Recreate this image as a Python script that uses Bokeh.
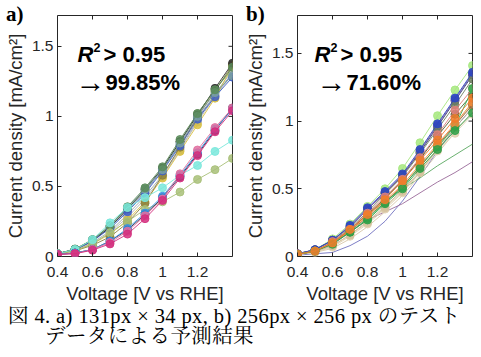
import math
from bokeh.plotting import figure
from bokeh.layouts import row, column
from bokeh.models import Range1d, FixedTicker, Label, Div, CustomJSTickFormatter
from bokeh.embed import file_html
from bokeh.resources import INLINE

voltage = [0.4, 0.5, 0.6, 0.7, 0.8, 0.9, 1.0, 1.1, 1.2, 1.3, 1.4]
x_ticks = [0.4, 0.6, 0.8, 1.0, 1.2]
y_ticks = [0, 0.5, 1, 1.5]

# ---- panel a) 131px x 34px : predicted curves (all markers) ----
a_colors = ["#86a070", "#6d82a8", "#a0a8a8", "#b8b8b8", "#d8c040", "#8c8040",
            "#303030", "#4060c8", "#7aa0a0", "#5b8c5a",
            "#a8c078", "#7ae8dc", "#203050", "#3a90e0", "#e070a0", "#d42e7e"]
a_values = [
    [0.02, 0.05, 0.12, 0.21, 0.34, 0.47, 0.63, 0.82, 1.02, 1.19, 1.34],
    [0.02, 0.05, 0.11, 0.21, 0.33, 0.46, 0.62, 0.80, 0.99, 1.15, 1.31],
    [0.02, 0.045, 0.10, 0.18, 0.30, 0.43, 0.58, 0.77, 0.97, 1.16, 1.33],
    [0.02, 0.045, 0.09, 0.17, 0.28, 0.41, 0.57, 0.76, 0.96, 1.14, 1.30],
    [0.02, 0.04, 0.09, 0.16, 0.26, 0.39, 0.56, 0.75, 0.94, 1.13, 1.36],
    [0.02, 0.04, 0.08, 0.14, 0.24, 0.38, 0.58, 0.78, 1.00, 1.18, 1.37],
    [0.02, 0.05, 0.11, 0.21, 0.34, 0.48, 0.63, 0.82, 1.01, 1.20, 1.38],
    [0.02, 0.05, 0.11, 0.20, 0.32, 0.45, 0.61, 0.79, 0.98, 1.14, 1.28],
    [0.02, 0.05, 0.12, 0.22, 0.35, 0.48, 0.62, 0.81, 1.00, 1.17, 1.29],
    [0.02, 0.054, 0.12, 0.22, 0.355, 0.49, 0.64, 0.835, 1.02, 1.19, 1.35],
    [0.02, 0.04, 0.09, 0.17, 0.25, 0.335, 0.39, 0.46, 0.55, 0.62, 0.70],
    [0.02, 0.05, 0.12, 0.24, 0.35, 0.42, 0.49, 0.58, 0.65, 0.75, 0.83],
    [0.015, 0.025, 0.05, 0.11, 0.19, 0.30, 0.42, 0.57, 0.73, 0.90, 1.06],
    [0.015, 0.025, 0.05, 0.11, 0.20, 0.31, 0.43, 0.58, 0.74, 0.91, 1.05],
    [0.015, 0.02, 0.05, 0.10, 0.18, 0.29, 0.41, 0.59, 0.76, 0.92, 1.06],
    [0.015, 0.02, 0.045, 0.09, 0.16, 0.27, 0.40, 0.56, 0.72, 0.89, 1.04],
]

# ---- panel b) 256px x 256px : curves without markers, then predicted curves ----
b_line_colors = ["#7070c0", "#5aa860", "#9a6a9a", "#d8c8a8"]
b_line_values = [
    [0.01, 0.02, 0.03, 0.08, 0.15, 0.26, 0.41, 0.59, 0.78, 0.95, 1.10],
    [0.015, 0.04, 0.10, 0.20, 0.31, 0.41, 0.50, 0.58, 0.67, 0.75, 0.83],
    [0.015, 0.04, 0.09, 0.18, 0.27, 0.33, 0.39, 0.47, 0.55, 0.62, 0.70],
    [0.015, 0.03, 0.06, 0.13, 0.22, 0.33, 0.45, 0.60, 0.76, 0.92, 1.07],
]
b_colors = ["#a6e77e", "#283a7a", "#7a5aa0", "#708060", "#506030", "#2a45c2",
            "#e0d0b0", "#c8b890", "#d6c4a0", "#9c6a3a", "#e0807a",
            "#30b050", "#f08a3a", "#2fa048", "#f07d2c"]
b_values = [
    [0.02, 0.05, 0.13, 0.24, 0.37, 0.50, 0.65, 0.84, 1.04, 1.23, 1.41],
    [0.02, 0.05, 0.12, 0.22, 0.35, 0.47, 0.60, 0.77, 0.96, 1.15, 1.34],
    [0.02, 0.05, 0.12, 0.22, 0.35, 0.47, 0.60, 0.78, 0.97, 1.16, 1.35],
    [0.02, 0.04, 0.11, 0.21, 0.33, 0.46, 0.59, 0.76, 0.94, 1.12, 1.31],
    [0.015, 0.04, 0.10, 0.20, 0.31, 0.43, 0.56, 0.72, 0.89, 1.05, 1.20],
    [0.02, 0.05, 0.12, 0.23, 0.36, 0.48, 0.61, 0.79, 0.98, 1.17, 1.36],
    [0.015, 0.03, 0.07, 0.15, 0.24, 0.35, 0.47, 0.62, 0.78, 0.91, 1.05],
    [0.015, 0.035, 0.08, 0.16, 0.26, 0.37, 0.49, 0.63, 0.79, 0.95, 1.10],
    [0.015, 0.035, 0.08, 0.16, 0.25, 0.36, 0.48, 0.62, 0.80, 0.97, 1.13],
    [0.015, 0.04, 0.10, 0.19, 0.29, 0.40, 0.52, 0.66, 0.82, 0.97, 1.12],
    [0.02, 0.04, 0.11, 0.20, 0.32, 0.44, 0.57, 0.73, 0.90, 1.08, 1.24],
    [0.015, 0.04, 0.10, 0.18, 0.28, 0.40, 0.51, 0.67, 0.81, 0.96, 1.24],
    [0.015, 0.04, 0.10, 0.19, 0.30, 0.41, 0.53, 0.68, 0.83, 0.98, 1.14],
    [0.015, 0.04, 0.09, 0.18, 0.27, 0.39, 0.50, 0.65, 0.79, 0.93, 1.06],
    [0.015, 0.04, 0.10, 0.20, 0.31, 0.42, 0.56, 0.71, 0.86, 1.02, 1.17],
]

x_min, x_max = 0.4, 1.4
y_max_a = 1.72
y_max_b = 1.78

FONT = "Liberation Sans"
AX = "#262626"
FRAME_W, FRAME_H = 175, 241


def make_panel(ymax, line_values, line_colors, values, colors, percent, dx1, dx2):
    p = figure(width=57 + FRAME_W + 8, height=15 + FRAME_H + 44,
               frame_width=FRAME_W, frame_height=FRAME_H,
               x_range=Range1d(x_min, x_max), y_range=Range1d(0, ymax),
               output_backend="svg", toolbar_location=None,
               min_border_left=57, min_border_right=8,
               min_border_top=15, min_border_bottom=44)
    p.background_fill_color = "white"
    p.border_fill_color = "white"
    p.outline_line_color = AX
    p.outline_line_width = 1
    p.xgrid.visible = False
    p.ygrid.visible = False

    fmt = CustomJSTickFormatter(code="return String(Math.round(tick*10)/10);")
    for ax, ticks in ((p.xaxis[0], x_ticks), (p.yaxis[0], y_ticks)):
        ax.ticker = FixedTicker(ticks=ticks)
        ax.formatter = fmt
        ax.major_tick_in = 4
        ax.major_tick_out = 0
        ax.minor_tick_line_color = None
        ax.axis_line_color = None
        ax.major_tick_line_color = AX
        ax.major_label_text_font = FONT
        ax.major_label_text_font_size = "15.5px"
        ax.major_label_text_color = AX
        ax.axis_label_text_font = FONT
        ax.axis_label_text_font_size = "18.5px"
        ax.axis_label_text_font_style = "normal"
        ax.axis_label_text_color = AX
    p.xaxis.major_label_standoff = 10
    p.xaxis.axis_label_standoff = 3
    p.yaxis.major_label_standoff = 4
    p.yaxis.axis_label_standoff = 3
    p.xaxis.axis_label = "Voltage [V vs RHE]"
    p.yaxis.axis_label = "Current density [mA/cm²]"

    # inward ticks on the right and top edges of the box
    p.ray(x=[x_max] * len(y_ticks), y=y_ticks, length=4, length_units="screen",
          angle=math.pi, line_color=AX, line_width=1)
    p.ray(x=x_ticks, y=[ymax] * len(x_ticks), length=4, length_units="screen",
          angle=-math.pi / 2, line_color=AX, line_width=1)

    for vals, c in zip(line_values, line_colors):
        p.line(voltage, vals, line_color=c, line_width=1, line_alpha=0.9)
    for vals, c in zip(values, colors):
        p.line(voltage, vals, line_color=c, line_width=1, line_alpha=0.9)
        p.scatter(voltage, vals, size=8, fill_color=c, line_color=c,
                  fill_alpha=0.85, line_alpha=0.85)

    # annotation
    base1 = FRAME_H - (53.5 - 15)
    base2 = FRAME_H - (81.7 - 15)
    p.add_layout(Label(x=20 + dx1, y=base1, x_units="screen", y_units="screen",
                       text="R", text_font=FONT, text_font_style="bold italic",
                       text_font_size="22px", text_color="black",
                       text_baseline="alphabetic"))
    p.add_layout(Label(x=36 + dx1, y=base1 + 7, x_units="screen", y_units="screen",
                       text="2", text_font=FONT, text_font_style="bold",
                       text_font_size="12.5px", text_color="black",
                       text_baseline="alphabetic"))
    p.add_layout(Label(x=46 + dx1, y=base1, x_units="screen", y_units="screen",
                       text="> 0.95", text_font=FONT, text_font_style="bold",
                       text_font_size="22px", text_color="black",
                       text_baseline="alphabetic"))
    p.add_layout(Label(x=18 + dx2, y=base2 + 1, x_units="screen", y_units="screen",
                       text="→", text_font=FONT, text_font_style="normal",
                       text_font_size="30px", text_color="black",
                       text_baseline="alphabetic"))
    p.add_layout(Label(x=48 + dx2, y=base2, x_units="screen", y_units="screen",
                       text=percent, text_font=FONT, text_font_style="bold",
                       text_font_size="22px", text_color="black",
                       text_baseline="alphabetic"))
    return p


pa = make_panel(y_max_a, [], [], a_values, a_colors, "99.85%", 0, 0)
pb = make_panel(y_max_b, b_line_values, b_line_colors, b_values, b_colors, "71.60%", -3, 1)

letter_style = ("position:absolute;top:2px;font-family:'Liberation Serif',serif;"
                "font-weight:bold;font-size:21px;line-height:24px;color:#000;")
letters = Div(
    text=(f"<div style=\"position:relative;width:481px;height:28px;\">"
          f"<span style=\"{letter_style}left:6px;\">a)</span>"
          f"<span style=\"{letter_style}left:246px;\">b)</span></div>"),
    width=481, height=28, margin=(0, 0, 0, 0),
    styles={"position": "absolute", "top": "0px", "left": "0px", "z-index": "10"})

caption = Div(
    text=("<div style=\"font-family:'Liberation Serif','Noto Serif CJK JP','Noto Sans CJK JP',serif;"
          "font-size:20.5px;line-height:20px;letter-spacing:0.4px;color:#000;margin:0;"
          "padding:0 0 0 8px;white-space:nowrap;\">"
          "図 4. a) 131px × 34 px, b) 256px × 256 px のテスト<br>"
          "<span style=\"padding-left:37px\">データによる予測結果</span></div>"),
    width=481, height=57, margin=(0, 0, 0, 0))

layout = column(letters, row(pa, pb, spacing=0), caption, spacing=0)

with open("out.html", "w") as f:
    f.write(file_html(layout, INLINE))
